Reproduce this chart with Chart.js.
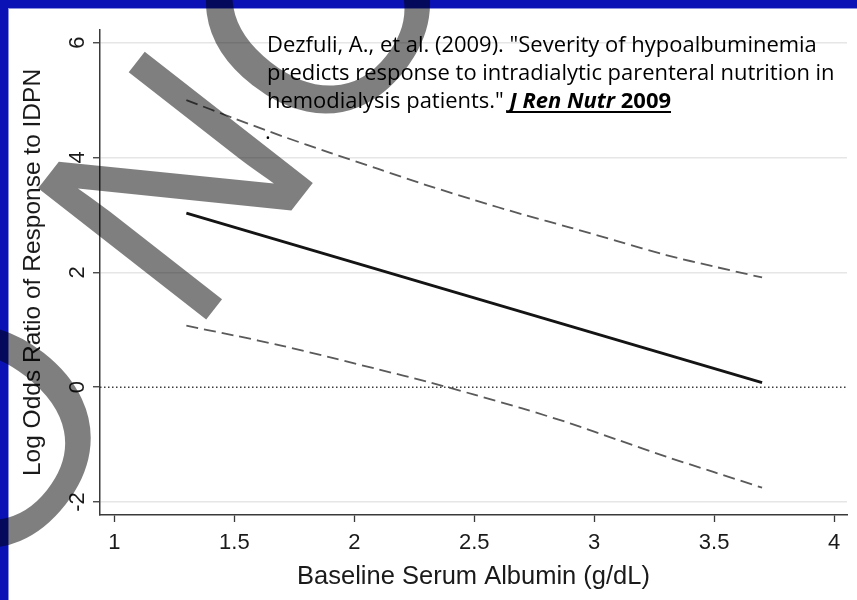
<!DOCTYPE html>
<html>
<head>
<meta charset="utf-8">
<script src="https://cdn.jsdelivr.net/npm/chart.js@4.4.1/dist/chart.umd.min.js"></script>
<style>
  html, body { margin: 0; padding: 0; background: #fff; }
  #wrap { width: 857px; height: 600px; }
</style>
</head>
<body>
<div id="wrap"><canvas id="idpnChart" width="857" height="600"></canvas></div>
<script>
// values
const albumin = [1.3, 1.5, 1.7, 1.9, 2.1, 2.3, 2.5, 2.7, 2.9, 3.1, 3.3, 3.5, 3.7];
const upperCI = [5.00, 4.68, 4.37, 4.08, 3.80, 3.52, 3.26, 3.01, 2.78, 2.54, 2.30, 2.10, 1.91];
const lowerCI = [1.07, 0.90, 0.72, 0.52, 0.31, 0.10, -0.13, -0.37, -0.63, -0.92, -1.21, -1.48, -1.75];
const fitX = [1.3, 3.7];
const fitY = [3.03, 0.08];

const xMin = 0.94, xMax = 4.054;
const yMin = -2.226, yMax = 6.22;

const xTitle = 'Baseline Serum Albumin (g/dL)';
const yTitle = 'Log Odds Ratio of Response to IDPN';
const noteLines = [
  'Dezfuli, A., et al. (2009). "Severity of hypoalbuminemia',
  'predicts response to intradialytic parenteral nutrition in',
  'hemodialysis patients." '
];
const noteJournal = 'J Ren Nutr';
const noteYear = '2009';

const axisFont = '"Liberation Sans", Arial, sans-serif';
const noteFont = '"Open Sans", "Noto Sans", sans-serif';

const toPoints = (xs, ys) => xs.map((x, i) => ({ x: x, y: ys[i] }));
const tickText = v => String(Number(v.toFixed(2)));

// page frame, y tick labels (rotated), citation text and the "NO" stamp
const decorations = {
  id: 'decorations',
  beforeDraw(chart) {
    const c = chart.ctx;
    c.save();
    c.fillStyle = '#ffffff';
    c.fillRect(0, 0, chart.width, chart.height);
    c.fillStyle = '#0a12b6';
    c.fillRect(0, 0, chart.width, 8);
    c.fillRect(0, 0, 8, chart.height);
    c.fillStyle = '#8a90e0';
    c.fillRect(8, 8, chart.width - 8, 1);
    c.fillRect(8, 8, 1, chart.height - 8);
    c.restore();
  },
  afterDraw(chart) {
    const c = chart.ctx;
    const yScale = chart.scales.y;

    // y tick labels, turned like the title
    c.save();
    c.fillStyle = '#1a1a1a';
    c.font = '22px ' + axisFont;
    c.textAlign = 'center';
    c.textBaseline = 'middle';
    yScale.ticks.forEach(t => {
      c.save();
      c.translate(77, yScale.getPixelForValue(t.value));
      c.rotate(-Math.PI / 2);
      c.fillText(tickText(t.value), 0, 1);
      c.restore();
    });
    c.restore();

    // citation
    c.save();
    c.font = '100px ' + noteFont;
    const size = 100 * 568 / c.measureText(noteLines[1]).width;
    c.font = size + 'px ' + noteFont;
    c.fillStyle = '#000';
    c.textBaseline = 'alphabetic';
    const left = 267;
    const base = [52, 80, 108];
    c.fillText(noteLines[0], left, base[0]);
    c.fillText(noteLines[1], left, base[1]);
    c.fillText(noteLines[2], left, base[2]);
    let x = left + c.measureText(noteLines[2]).width;
    const uStart = x;
    c.font = 'italic bold ' + size + 'px ' + noteFont;
    c.fillText(noteJournal, x, base[2]);
    x += c.measureText(noteJournal + ' ').width;
    c.font = 'bold ' + size + 'px ' + noteFont;
    c.fillText(noteYear, x, base[2]);
    x += c.measureText(noteYear).width;
    c.fillRect(uStart, base[2] + 3, x - uStart, 2);
    c.font = size + 'px ' + noteFont;
    c.fillText('.', 265, 139);
    c.restore();

    // stamp
    c.save();
    c.translate(172, 183);
    c.rotate(-52 * Math.PI / 180);
    c.font = '310px "Liberation Sans", Arial, sans-serif';
    c.fillStyle = 'rgba(0, 0, 0, 0.5)';
    c.textAlign = 'left';
    c.textBaseline = 'alphabetic';
    const pre = c.measureText('NO ').width;
    const nW = c.measureText('N').width;
    c.fillText('NO NO', -pre - nW / 2, 0.716 * 310 / 2);
    c.restore();
  }
};

const ctx = document.getElementById('idpnChart').getContext('2d');

const idpnChart = new Chart(ctx, {
  type: 'scatter',
  data: {
    datasets: [
      {
        label: 'Zero',
        data: toPoints([xMin, xMax], [0, 0]),
        showLine: true,
        borderColor: '#3c3c3c',
        borderWidth: 1.5,
        borderDash: [1.5, 2.5],
        pointRadius: 0
      },
      {
        label: 'Upper 95% CI',
        data: toPoints(albumin, upperCI),
        showLine: true,
        borderColor: '#5a5a5a',
        borderWidth: 1.8,
        borderDash: [12, 6],
        tension: 0.3,
        pointRadius: 0
      },
      {
        label: 'Lower 95% CI',
        data: toPoints(albumin, lowerCI),
        showLine: true,
        borderColor: '#5a5a5a',
        borderWidth: 1.8,
        borderDash: [12, 6],
        tension: 0.3,
        pointRadius: 0
      },
      {
        label: 'Log odds',
        data: toPoints(fitX, fitY),
        showLine: true,
        borderColor: '#141414',
        borderWidth: 2.8,
        pointRadius: 0
      }
    ]
  },
  options: {
    responsive: false,
    animation: false,
    layout: { padding: { left: 0, top: 30, right: 10, bottom: 0 } },
    plugins: {
      legend: { display: false },
      tooltip: { enabled: false }
    },
    scales: {
      x: {
        type: 'linear',
        min: xMin,
        max: xMax,
        afterFit: scale => { scale.height = 85; },
        ticks: {
          stepSize: 0.5,
          includeBounds: false,
          padding: 8,
          color: '#1a1a1a',
          font: { family: axisFont, size: 22 },
          maxRotation: 0,
          callback: v => tickText(v)
        },
        grid: {
          drawOnChartArea: false,
          tickLength: 7,
          tickColor: '#3a3a3a',
          tickWidth: 1.3
        },
        border: { color: '#3a3a3a', width: 1.5 },
        title: {
          display: true,
          text: xTitle,
          color: '#1a1a1a',
          font: { family: axisFont, size: 25.5 },
          padding: { top: 0, bottom: 8 }
        }
      },
      y: {
        type: 'linear',
        min: yMin,
        max: yMax,
        afterFit: scale => { scale.width = 100; },
        ticks: {
          stepSize: 2,
          includeBounds: false,
          display: false
        },
        grid: {
          color: c => c.tick && c.tick.value === 0 ? 'rgba(0,0,0,0)' : '#e6e6e6',
          lineWidth: 1.5,
          tickLength: 7,
          tickColor: '#3a3a3a',
          tickWidth: 1.3
        },
        border: { color: '#3a3a3a', width: 1.5 },
        title: {
          display: true,
          text: yTitle,
          color: '#1a1a1a',
          font: { family: axisFont, size: 24.5 },
          padding: { top: 19, bottom: 0 }
        }
      }
    }
  },
  plugins: [decorations]
});
</script>
</body>
</html>
